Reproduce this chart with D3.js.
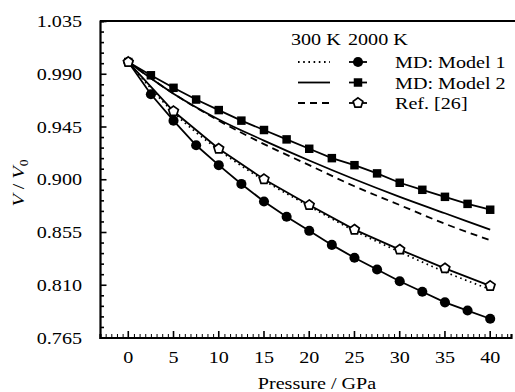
<!DOCTYPE html>
<html>
<head>
<meta charset="utf-8">
<script src="https://cdn.jsdelivr.net/npm/d3@7"></script>
<style>
  body { margin: 0; background: #fff; }
  svg text { font-family: "Liberation Serif", "Times New Roman", serif; fill: #000; }
</style>
</head>
<body>
<svg id="chart" width="515" height="392"></svg>
<script>
// pressures (GPa)
const pressureHot = [0, 2.5, 5, 7.5, 10, 12.5, 15, 17.5, 20, 22.5, 25, 27.5, 30, 32.5, 35, 37.5, 40];
const pressureRef = [0, 5, 10, 15, 20, 25, 30, 35, 40];
const pressureCold = [0, 5, 10, 15, 20, 25, 30, 35, 40];

// 2000 K, with markers
const model1Hot = [1.000, 0.9725, 0.950, 0.929, 0.912, 0.896, 0.881, 0.868, 0.856, 0.844, 0.833, 0.823, 0.813, 0.804, 0.795, 0.788, 0.781];
const model2Hot = [1.000, 0.9887, 0.978, 0.968, 0.959, 0.950, 0.942, 0.934, 0.926, 0.918, 0.912, 0.905, 0.897, 0.891, 0.885, 0.879, 0.874];
const refHot = [1.000, 0.958, 0.926, 0.900, 0.878, 0.857, 0.840, 0.824, 0.809];

// 300 K, plain lines
const model1Cold = [1.000, 0.957, 0.925, 0.899, 0.877, 0.856, 0.838, 0.821, 0.806];
const model2Cold = [1.000, 0.973, 0.951, 0.933, 0.916, 0.900, 0.885, 0.871, 0.857];
const refCold = [1.000, 0.973, 0.950, 0.930, 0.912, 0.894, 0.878, 0.862, 0.848];

const xMajorTicks = [0, 5, 10, 15, 20, 25, 30, 35, 40];
const yMajorTicks = [0.765, 0.810, 0.855, 0.900, 0.945, 0.990, 1.035];

const svg = d3.select('#chart');
const SX = 1.15; // the original type is wider than Liberation Serif
const fontSize = 17.5;

const x = d3.scaleLinear().domain([-3.125, 42.3]).range([100, 511]);
const y = d3.scaleLinear().domain([0.765, 1.035]).range([337.5, 21]);

// top frame line
svg.append('line')
  .attr('x1', 100).attr('x2', 515)
  .attr('y1', y(1.035)).attr('y2', y(1.035))
  .attr('stroke', '#000').attr('stroke-width', 2.2);

// minor ticks
const xMinor = d3.range(-2.5, 42.3, 0.625).filter(v => Math.abs(v / 5 - Math.round(v / 5)) > 1e-6);
const yMinor = d3.range(0, 31).map(i => 0.765 + i * 0.009).filter((v, i) => i % 5 !== 0);

const gx = svg.append('g').attr('transform', `translate(0,${y.range()[0]})`);
gx.call(d3.axisBottom(x).tickValues(xMinor).tickSize(-3.5).tickFormat(''));
gx.call(g => g.selectAll('.tick').attr('class', 'minor'));
const gxMaj = svg.append('g').attr('transform', `translate(0,${y.range()[0]})`)
  .call(d3.axisBottom(x).tickValues(xMajorTicks).tickSize(-6.5).tickPadding(15).tickFormat(d3.format('d')));
gxMaj.select('.domain').remove();

const gy = svg.append('g').attr('transform', `translate(${x.range()[0]},0)`);
gy.call(d3.axisLeft(y).tickValues(yMinor).tickSize(-4).tickFormat(''));
const gyMaj = svg.append('g').attr('transform', `translate(${x.range()[0]},0)`)
  .call(d3.axisLeft(y).tickValues(yMajorTicks).tickSize(-6.5).tickPadding(16).tickFormat(d3.format('.3f')));
gyMaj.select('.domain').remove();

svg.selectAll('.domain').attr('stroke-width', 2.2);
svg.selectAll('.tick line').attr('stroke-width', 1.6);
svg.selectAll('.tick text')
  .attr('font-size', fontSize)
  .attr('font-family', '"Liberation Serif", serif');
gxMaj.selectAll('.tick text').attr('y', 13).attr('transform', `scale(${SX},1)`)
  .attr('x', function () { return 0; });
// keep x labels centred on their ticks after the stretch
gxMaj.selectAll('.tick').each(function (d) {
  d3.select(this).attr('transform', `translate(${x(d)},0)`)
    .select('text').attr('transform', `scale(${SX},1)`);
});
gyMaj.selectAll('.tick text').attr('x', -18 / SX).attr('transform', `scale(${SX},1)`);

// lines
const lineCurve = (px, vals) => d3.line().curve(d3.curveMonotoneX)
  .x((d, i) => x(px[i])).y(d => y(d))(vals);
const lineStraight = (px, vals) => d3.line()
  .x((d, i) => x(px[i])).y(d => y(d))(vals);

const plot = svg.append('g');

plot.append('path').attr('d', lineCurve(pressureCold, model1Cold))
  .attr('fill', 'none').attr('stroke', '#000').attr('stroke-width', 1.7).attr('stroke-dasharray', '1.6,3.6');
plot.append('path').attr('d', lineCurve(pressureCold, model2Cold))
  .attr('fill', 'none').attr('stroke', '#000').attr('stroke-width', 1.8);
plot.append('path').attr('d', lineCurve(pressureCold, refCold))
  .attr('fill', 'none').attr('stroke', '#000').attr('stroke-width', 1.8).attr('stroke-dasharray', '7,5');

plot.append('path').attr('d', lineStraight(pressureHot, model1Hot))
  .attr('fill', 'none').attr('stroke', '#000').attr('stroke-width', 1.8);
plot.append('path').attr('d', lineStraight(pressureHot, model2Hot))
  .attr('fill', 'none').attr('stroke', '#000').attr('stroke-width', 1.8);
plot.append('path').attr('d', lineStraight(pressureRef, refHot))
  .attr('fill', 'none').attr('stroke', '#000').attr('stroke-width', 1.8);

// pentagon symbol
const pentagon = {
  draw(ctx, size) {
    const r = Math.sqrt(size / 2.378);
    for (let i = 0; i < 5; i++) {
      const a = -Math.PI / 2 + i * 2 * Math.PI / 5;
      const px = r * Math.cos(a), py = r * Math.sin(a);
      if (i === 0) ctx.moveTo(px, py); else ctx.lineTo(px, py);
    }
    ctx.closePath();
  }
};

const circleSym = d3.symbol().type(d3.symbolCircle).size(80);
const squareSym = d3.symbol().type(d3.symbolSquare).size(72);
const pentSym = d3.symbol().type(pentagon).size(62);

plot.selectAll('.m1').data(model1Hot).join('path').attr('class', 'm1')
  .attr('d', circleSym).attr('transform', (d, i) => `translate(${x(pressureHot[i])},${y(d)})`)
  .attr('fill', '#000');
plot.selectAll('.m2').data(model2Hot).join('path').attr('class', 'm2')
  .attr('d', squareSym).attr('transform', (d, i) => `translate(${x(pressureHot[i])},${y(d)})`)
  .attr('fill', '#000');
plot.selectAll('.rf').data(refHot).join('path').attr('class', 'rf')
  .attr('d', pentSym).attr('transform', (d, i) => `translate(${x(pressureRef[i])},${y(d)})`)
  .attr('fill', '#fff').attr('stroke', '#000').attr('stroke-width', 1.7);

// legend
const legend = svg.append('g');
const stretchedText = (g, tx, ty, str) => g.append('text')
  .attr('transform', `translate(${tx},${ty}) scale(${SX},1)`)
  .attr('font-size', fontSize).text(str);

stretchedText(legend, 291, 45, '300 K');
stretchedText(legend, 348, 45, '2000 K');

const legendRows = [
  { label: 'MD: Model 1', dash: '1.6,3.6', sym: circleSym, fill: '#000', symSize: 64 },
  { label: 'MD: Model 2', dash: null, sym: squareSym, fill: '#000' },
  { label: 'Ref. [26]', dash: '7,5', sym: pentSym, fill: '#fff' }
];
legendRows.forEach((r, i) => {
  const cy = 62 + i * 20.5;
  legend.append('line').attr('x1', 298).attr('x2', 330).attr('y1', cy).attr('y2', cy)
    .attr('stroke', '#000').attr('stroke-width', 1.8).attr('stroke-dasharray', r.dash);
  legend.append('line').attr('x1', 349).attr('x2', 367).attr('y1', cy).attr('y2', cy)
    .attr('stroke', '#000').attr('stroke-width', 1.8);
  legend.append('path').attr('d', r.sym).attr('transform', `translate(358,${cy})`)
    .attr('fill', r.fill).attr('stroke', r.fill === '#fff' ? '#000' : 'none').attr('stroke-width', 1.7);
  stretchedText(legend, 395, cy + 6, r.label);
});

// axis titles
const xt = svg.append('text')
  .attr('transform', `translate(317,389) scale(${SX},1)`)
  .attr('text-anchor', 'middle').attr('font-size', fontSize)
  .text('Pressure / GPa');

const yt = svg.append('text')
  .attr('transform', `translate(24,183) rotate(-90) scale(${SX},1)`)
  .attr('text-anchor', 'middle').attr('font-size', fontSize);
yt.append('tspan').attr('font-style', 'italic').text('V');
yt.append('tspan').text(' / ');
yt.append('tspan').attr('font-style', 'italic').text('V');
yt.append('tspan').attr('font-size', 12).attr('dy', 4).text('0');
</script>
</body>
</html>
